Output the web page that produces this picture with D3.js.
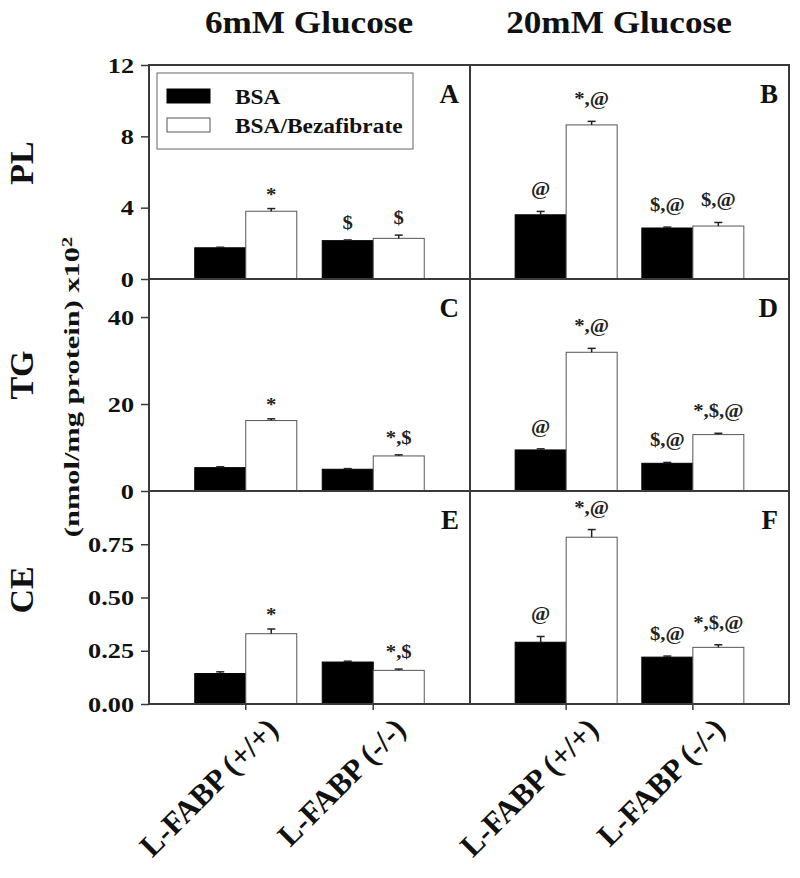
<!DOCTYPE html>
<html><head><meta charset="utf-8">
<script src="https://cdn.jsdelivr.net/npm/d3@7"></script>
<style>body{margin:0;background:#fff}svg{display:block}</style>
</head><body>
<svg id="chart" width="800" height="878"></svg>
<script>
// ---------- DATA ----------
const categories = ["L-FABP (+/+)", "L-FABP (-/-)"];
const glucose = ["6mM Glucose", "20mM Glucose"];
const series = ["BSA", "BSA/Bezafibrate"];
const measures = ["PL", "TG", "CE"];
const panelLetters = [["A", "B"], ["C", "D"], ["E", "F"]];
// order: 6mM (+/+), 6mM (-/-), 20mM (+/+), 20mM (-/-)
const plBSA = [1.75, 2.15, 3.6, 2.86];
const plBSAErr = [0.03, 0.04, 0.19, 0.05];
const plBez = [3.8, 2.28, 8.64, 2.97];
const plBezErr = [0.15, 0.18, 0.2, 0.2];
const tgBSA = [5.37, 5.0, 9.44, 6.37];
const tgBSAErr = [0.2, 0.15, 0.25, 0.2];
const tgBez = [16.2, 8.06, 31.9, 12.97];
const tgBezErr = [0.4, 0.25, 0.9, 0.3];
const ceBSA = [0.143, 0.197, 0.29, 0.22];
const ceBSAErr = [0.008, 0.004, 0.027, 0.005];
const ceBez = [0.33, 0.158, 0.783, 0.266];
const ceBezErr = [0.022, 0.006, 0.036, 0.012];
const plBSAMark = ["", "$", "@", "$,@"];
const plBezMark = ["*", "$", "*,@", "$,@"];
const tgBSAMark = ["", "", "@", "$,@"];
const tgBezMark = ["*", "*,$", "*,@", "*,$,@"];
const ceBSAMark = ["", "", "@", "$,@"];
const ceBezMark = ["*", "*,$", "*,@", "*,$,@"];
const yMax = [12, 48.75, 1.0];
const yTicks = [[0, 4, 8, 12], [0, 20, 40], [0, 0.25, 0.5, 0.75]];
const yFormats = ["d", "d", ".2f"];
const yTitle = "(nmol/mg protein) x10";
const yTitleSup = "2";

const rows = [
  {bsa: plBSA, bsaErr: plBSAErr, bez: plBez, bezErr: plBezErr, bsaMark: plBSAMark, bezMark: plBezMark},
  {bsa: tgBSA, bsaErr: tgBSAErr, bez: tgBez, bezErr: tgBezErr, bsaMark: tgBSAMark, bezMark: tgBezMark},
  {bsa: ceBSA, bsaErr: ceBSAErr, bez: ceBez, bezErr: ceBezErr, bsaMark: ceBSAMark, bezMark: ceBezMark}
];

// ---------- LAYOUT ----------
const FONT = '"Liberation Serif","Times New Roman",Times,serif';
const svg = d3.select("#chart");
const colX = [149, 470, 789];
const rowY = [65, 279, 491, 704];
const lineCol = "#3a3a3a";

function stext(parent, x, y, str, o) {
  o = o || {};
  return parent.append("text")
    .attr("transform", `translate(${x},${y}) rotate(${o.rot || 0}) scale(${o.sx || 1},1)`)
    .attr("text-anchor", o.anchor || "start")
    .style("font-family", FONT)
    .style("font-weight", o.weight || "bold")
    .style("font-size", (o.size || 16) + "px")
    .style("fill", o.fill || "#111")
    .text(str);
}

// column titles
const titleX = [309, 619];
glucose.forEach((g, i) => stext(svg, titleX[i], 33, g, {size: 32, sx: 1.1, anchor: "middle"}));

// row labels
const rowLabelY = [163, 375, 590];
measures.forEach((m, i) => stext(svg, 33, rowLabelY[i], m, {size: 34, rot: -90, anchor: "middle"}));

// y title
const yt = svg.append("text")
  .attr("transform", "translate(79,387) rotate(-90) scale(1.45,1)")
  .attr("text-anchor", "middle")
  .style("font-family", FONT).style("font-weight", "bold").style("font-size", "21px").style("fill", "#111");
yt.append("tspan").text(yTitle);
yt.append("tspan").attr("dy", "-0.5em").style("font-size", "14px").text(yTitleSup);

const subX = d3.scaleBand().domain(series).range([-51, 51]).padding(0);

rows.forEach((r, ri) => {
  const y = d3.scaleLinear().domain([0, yMax[ri]]).range([rowY[ri + 1], rowY[ri]]);
  // y axis
  const ax = svg.append("g").attr("transform", `translate(${colX[0]},0)`)
    .call(d3.axisLeft(y).tickValues(yTicks[ri]).tickFormat(d3.format(yFormats[ri])).tickSize(8).tickPadding(4).tickSizeOuter(0));
  ax.select(".domain").remove();
  ax.selectAll(".tick line").attr("stroke", lineCol).attr("stroke-width", 1.5);
  ax.selectAll(".tick text")
    .attr("transform", "scale(1.25,1)")
    .attr("dy", "0.34em")
    .style("font-family", FONT).style("font-weight", "bold").style("font-size", "21px").style("fill", "#111");

  [0, 1].forEach(ci => {
    const x = d3.scalePoint().domain(categories).range([colX[ci], colX[ci + 1]]).padding(0.759);
    const g = svg.append("g");
    categories.forEach((cat, k) => {
      const idx = ci * 2 + k;
      const items = [
        {s: series[0], v: r.bsa[idx], e: r.bsaErr[idx], m: r.bsaMark[idx], fill: "#000", stroke: "#000"},
        {s: series[1], v: r.bez[idx], e: r.bezErr[idx], m: r.bezMark[idx], fill: "#fff", stroke: "#555"}
      ];
      items.forEach(it => {
        const x0 = x(cat) + subX(it.s);
        const xc = x0 + subX.bandwidth() / 2;
        g.append("rect").attr("x", x0).attr("y", y(it.v))
          .attr("width", subX.bandwidth()).attr("height", y(0) - y(it.v))
          .attr("fill", it.fill).attr("stroke", it.stroke).attr("stroke-width", 1);
        const yt = y(it.v + it.e);
        g.append("line").attr("x1", xc).attr("x2", xc).attr("y1", y(it.v)).attr("y2", yt)
          .attr("stroke", "#222").attr("stroke-width", 1.5);
        g.append("line").attr("x1", xc - 4).attr("x2", xc + 4).attr("y1", yt).attr("y2", yt)
          .attr("stroke", "#222").attr("stroke-width", 1.5);
        if (it.m) {
          const off = it.m.includes("@") ? 16 : (it.m === "*" ? 8 : 11);
          stext(g, xc, yt - off, it.m, {size: 18, sx: 1.15, anchor: "middle", fill: "#222"});
        }
      });
      if (ri === 2) {
        g.append("line").attr("x1", x(cat)).attr("x2", x(cat)).attr("y1", rowY[3]).attr("y2", rowY[3] + 6)
          .attr("stroke", lineCol).attr("stroke-width", 1.5);
        stext(svg, x(cat) + 34, 731, cat, {size: 31, rot: -45, anchor: "end"});
      }
    });
    // panel letter
    stext(svg, colX[ci + 1] - 11, rowY[ri] + 38, panelLetters[ri][ci], {size: 27, anchor: "end"});
  });
});

// frame lines
const frame = svg.append("g").attr("stroke", lineCol).attr("stroke-width", 2).attr("fill", "none");
frame.append("rect").attr("x", colX[0]).attr("y", rowY[0]).attr("width", colX[2] - colX[0]).attr("height", rowY[3] - rowY[0]);
[rowY[1], rowY[2]].forEach(yy => frame.append("line").attr("x1", colX[0]).attr("x2", colX[2]).attr("y1", yy).attr("y2", yy));
frame.append("line").attr("x1", colX[1]).attr("x2", colX[1]).attr("y1", rowY[0]).attr("y2", rowY[3]);

// legend
const lg = svg.append("g");
lg.append("rect").attr("x", 157).attr("y", 73).attr("width", 256).attr("height", 76)
  .attr("fill", "#fff").attr("stroke", "#666").attr("stroke-width", 1);
const legFill = ["#000", "#fff"];
series.forEach((s, i) => {
  lg.append("rect").attr("x", 167).attr("y", 89 + i * 29).attr("width", 43).attr("height", 14)
    .attr("fill", legFill[i]).attr("stroke", i ? "#555" : "#000").attr("stroke-width", 1);
  stext(lg, 235, 104 + i * 29, s, {size: 20, sx: 1.17});
});
</script>
</body></html>
